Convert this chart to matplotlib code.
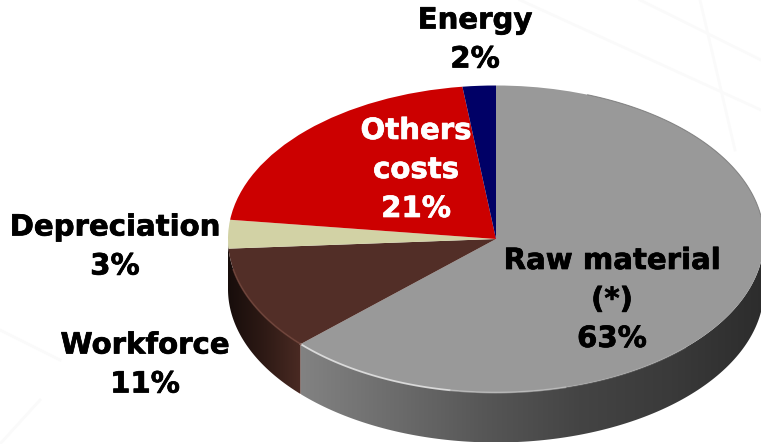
"""
Cost structure 3D-style pie chart
"""

import numpy as np
import matplotlib
matplotlib.use('Agg')
import matplotlib.pyplot as plt
import matplotlib.patheffects as pe
from matplotlib.colors import LinearSegmentedColormap
from matplotlib.patches import Polygon

# ============================================================================
# Data
# ============================================================================
LABELS = ['Raw material\n(*)\n63%', 'Workforce\n11%', 'Depreciation\n3%', 'Others\ncosts\n21%', 'Energy\n2%']
VALUES = [63, 11, 3, 21, 2]
COLORS = ['#999999', '#522e27', '#d2d2a5', '#cc0000', '#000066']
TEXT_COLORS = ['black', 'black', 'black', 'white', 'black']

# ============================================================================
# Layout (pixels of the 761x444 picture)
# ============================================================================
W, H = 761, 444
CX, CY = 496, 239
RX, RY = 268, 153.5
DEPTH = 50 / RY
LABEL_POS = [(612, 300), (145, 365), (115, 247), (416, 170), (475, 40)]

RAW_WALL = ['#828282', '#6c6c6c', '#565656', '#444444', '#3a3a3a', '#2c2c2c']
WORK_WALL = ['#170d0b', '#2e1a15', '#4a2a23']

plt.rcParams['font.family'] = ['DejaVu Sans']


def draw_wall(ax, start, end, stops):
    """front wall between two angles (deg, clockwise from top), shaded along x"""
    t = np.radians(np.linspace(start, end, 200))
    x = np.sin(t)
    y = np.cos(t)
    pts = np.vstack([np.column_stack([x, y]), np.column_stack([x[::-1], y[::-1] - DEPTH])])
    cmap = LinearSegmentedColormap.from_list('wall', stops)
    extent = [x.min(), x.max(), y.min() - DEPTH, y.max()]
    im = ax.imshow(np.linspace(0, 1, 256).reshape(1, -1), cmap=cmap, extent=extent,
                   aspect='auto', zorder=1)
    clip = Polygon(pts, closed=True, transform=ax.transData, fc='none', ec='none')
    ax.add_patch(clip)
    im.set_clip_path(clip)


def draw_rim(ax, start, end, color, alpha, lw=1.3):
    t = np.radians(np.linspace(start, end, 60))
    ax.plot(np.sin(t), np.cos(t), color=color, alpha=alpha, lw=lw, zorder=3)


def main():
    fig = plt.figure(figsize=(W / 100, H / 100), dpi=100)
    ax = fig.add_axes([0, 0, 1, 1])

    # faint background lines
    for xs, ys in [((520, 761), (0, 110)), ((640, 761), (0, 60)), ((700, 735), (0, 150)),
                   ((0, 60), (330, 360)), ((0, 40), (444, 400))]:
        fig.add_artist(plt.Line2D(np.array(xs) / W, 1 - np.array(ys) / H,
                                  color='#fafafa', lw=2, zorder=0))

    ax.pie(VALUES, colors=COLORS, startangle=90, counterclock=False,
           radius=1, wedgeprops={'linewidth': 0, 'zorder': 2})

    # side wall, only the front half is visible
    edges = np.cumsum(VALUES) * 3.6
    draw_wall(ax, 90, edges[0], RAW_WALL)
    draw_wall(ax, edges[0], 270, WORK_WALL)

    # rim highlights and thin outline
    draw_rim(ax, edges[0], 190, '#e0e0e0', 0.9)
    draw_rim(ax, 190, 165, '#c8c8c8', 0.6)
    draw_rim(ax, 165, 135, '#b4b4b4', 0.3)
    draw_rim(ax, edges[0], edges[1] - 8, '#6f4238', 0.8)
    draw_rim(ax, 20, 90, '#707070', 0.8, lw=0.7)

    ax.set_aspect('auto')
    ax.set_xlim(-CX / RX, (W - CX) / RX)
    ax.set_ylim((CY - H) / RY, CY / RY)
    ax.axis('off')

    for label, pos, col in zip(LABELS, LABEL_POS, TEXT_COLORS):
        fig.text(pos[0] / W, 1 - pos[1] / H, label, color=col, ha='center', va='center',
                 fontsize=21, fontweight='bold', linespacing=1.5, zorder=5,
                 path_effects=[pe.withStroke(linewidth=0.5, foreground=col)])

    plt.savefig('out.png', dpi=100)
    plt.close()


if __name__ == "__main__":
    main()
